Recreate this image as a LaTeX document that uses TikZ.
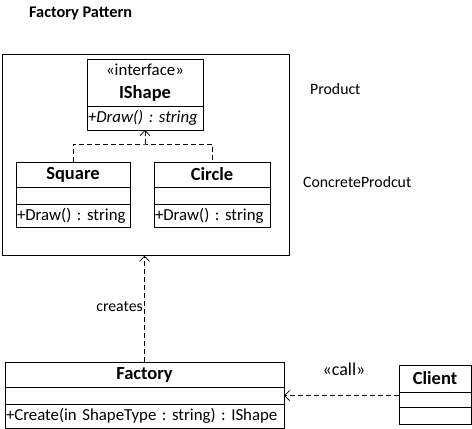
\documentclass[tikz,border=0pt]{standalone}
\usepackage{fontspec}
\setmainfont{Carlito}
\frenchspacing
\usetikzlibrary{positioning,arrows.meta}
\tikzset{
  part/.style={draw, line width=0.8pt, inner sep=0pt, outer sep=0pt, anchor=north west, font=\fontsize{16.8}{20}\selectfont},
  head/.style={part, font=\fontsize{18.5}{22}\selectfont\bfseries},
  meth/.style={part, inner xsep=1pt, align=left},
  dep/.style={dash pattern=on 5pt off 3pt, line width=0.8pt},
  open tip/.style={-{Straight Barb[length=5pt,width=10pt,line width=0.8pt]}},
  note/.style={inner sep=0pt, font=\fontsize{15.8}{18}\selectfont}
}
\begin{document}
\begin{tikzpicture}[x=1pt,y=-1pt]
  \useasboundingbox (0,0) rectangle (472,429);
  % title
  \node[inner sep=0pt, anchor=west, font=\fontsize{16.3}{18}\selectfont\bfseries] (title) at (29,13) {Factory Pattern};
  % product package box
  \node[draw, line width=0.8pt, anchor=north west, minimum width=287pt, minimum height=201pt] (prod) at (2,54) {};
  % IShape
  \node[head, minimum width=116pt, minimum height=47pt, align=center] (ish-head) at (87,59)
    {{\mdseries\fontsize{16.8}{20}\selectfont «interface»}\\[1pt]IShape};
  \node[meth, below=0pt of ish-head, anchor=north, text width=114pt, minimum height=24pt] (ish-meth)
    {\mbox{\itshape +Draw() : string}};
  % Square
  \node[head, minimum width=114pt, minimum height=25pt] (sq-head) at (16,162) {Square};
  \node[part, below=0pt of sq-head, anchor=north, minimum width=114pt, minimum height=17pt] (sq-attr) {};
  \node[meth, below=0pt of sq-attr, anchor=north, text width=112pt, minimum height=23pt] (sq-meth) {\mbox{+Draw() : string}};
  % Circle
  \node[head, minimum width=116pt, minimum height=25pt] (ci-head) at (154,162) {Circle};
  \node[part, below=0pt of ci-head, anchor=north, minimum width=116pt, minimum height=17pt] (ci-attr) {};
  \node[meth, below=0pt of ci-attr, anchor=north, text width=114pt, minimum height=23pt] (ci-meth) {\mbox{+Draw() : string}};
  % Factory
  \node[head, minimum width=279pt, minimum height=25pt] (fac-head) at (5,362) {Factory};
  \node[part, below=0pt of fac-head, anchor=north, minimum width=279pt, minimum height=17pt] (fac-attr) {};
  \node[meth, below=0pt of fac-attr, anchor=north, text width=277pt, minimum height=24pt] (fac-meth)
    {\mbox{+Create(in ShapeType : string) : IShape}};
  % Client
  \node[head, minimum width=72pt, minimum height=27pt] (cl-head) at (399,365) {Client};
  \node[part, below=0pt of cl-head, anchor=north, minimum width=72pt, minimum height=15pt] (cl-attr) {};
  \node[part, below=0pt of cl-attr, anchor=north, minimum width=72pt, minimum height=17pt] (cl-meth) {};
  % notes
  \node[note, anchor=west] (product) at (310,89) {Product};
  \node[note, anchor=west] (concrete) at (303,182) {ConcreteProdcut};
  \node[note, anchor=east] (creates) at (143,307) {creates};
  \node[note, font=\fontsize{18}{20}\selectfont] (call) at (344,369) {«call»};
  % connectors
  \coordinate (join) at (145,144);
  \draw[dep] (sq-head.north) |- (join) -| (ci-head.north);
  \draw[dep, open tip] (join) -- (ish-meth.south);
  \draw[dep, open tip] (fac-head.north) -- (fac-head.north |- prod.south);
  \draw[dep, open tip] (cl-head.south west |- fac-attr.east) -- (fac-attr.east);
\end{tikzpicture}
\end{document}
